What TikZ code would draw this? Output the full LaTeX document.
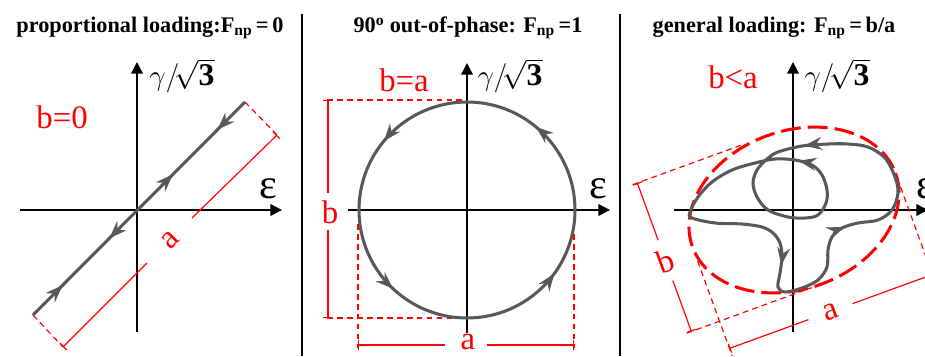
\documentclass[tikz,border=0pt]{standalone}
\usepackage{fontspec}
\setmainfont{Liberation Serif}
\newfontfamily\timesfont{Liberation Serif}
\usepackage{tikz}
\usetikzlibrary{arrows.meta,decorations.markings}
\definecolor{dimRed}{RGB}{255,0,0}
\definecolor{pathGray}{RGB}{88,88,88}

\tikzset{
  axis/.style={line width=1.3pt,-{Triangle[length=10pt,width=10pt]}},
  loadline/.style={color=pathGray,line width=2.6pt},
  pathtip/.tip={Stealth[length=15pt,width=11pt,inset=5pt]},
  dimline/.style={dimRed,line width=1pt},
  extline/.style={dimRed,line width=1pt,dash pattern=on 5pt off 3.5pt},
  envelope/.style={dimRed,line width=2.6pt,dash pattern=on 17pt off 6pt},
  redlabel/.style={text=dimRed,font=\timesfont\fontsize{28}{30}\selectfont,inner sep=1pt},
  axislabel/.style={font=\timesfont\fontsize{27}{29}\selectfont,inner sep=0pt},
  epslabel/.style={font=\timesfont\fontsize{36}{38}\selectfont,inner sep=0pt},
  paneltitle/.style={font=\timesfont\fontsize{19}{21}\selectfont\bfseries,inner sep=0pt},
  separator/.style={line width=1.2pt}
}

\begin{document}
\begin{tikzpicture}[x=0.03cm,y=-0.03cm]
\useasboundingbox (0,0) rectangle (925,356);

% panel frames
\draw[separator] (302,14) -- (302,356);
\draw[separator] (620,14) -- (620,356);
\node[paneltitle] (title1) at (150,28) {proportional loading:F\textsubscript{np}\,=\,0};
\node[paneltitle] (title2) at (468,28) {90\textsuperscript{o} out-of-phase: F\textsubscript{np}\,=1};
\node[paneltitle] (title3) at (774,28) {general loading: F\textsubscript{np}\,=\,b/a};

% ---- proportional ----
\coordinate (o1) at (137,210);
\draw[axis] (20,210) -- (282,210);
\draw[axis] (137,332) -- (137,62);
\node[axislabel] (gam1) at (182,76) {$\gamma/\!\sqrt{\textbf{3}}$};
\node[epslabel] (eps1) at (268,189) {ε};
\coordinate (p1s) at (33,315);
\coordinate (p1e) at (245,102);
\draw[extline] (p1e) -- (277,135);
\draw[extline] (p1s) -- (63,347);
\draw[dimline,-{Bar[width=8pt]}] (192,218) -- (277,135);
\draw[dimline,{Bar[width=8pt]}-] (63,347) -- (147,263);
\node[redlabel,rotate=45] (a1) at (170,240) {a};
\node[redlabel] (b1) at (62,117) {b=0};
\draw[loadline,postaction={decorate,decoration={markings,
    mark=at position 0.14 with {\arrow{pathtip}},
    mark=at position 0.36 with {\arrowreversed{pathtip}},
    mark=at position 0.66 with {\arrow{pathtip}},
    mark=at position 0.87 with {\arrowreversed{pathtip}}}}]
  (p1s) -- (p1e);

% ---- 90 deg out-of-phase ----
\coordinate (o2) at (467,210);
\draw[axis] (348,210) -- (610,210);
\draw[axis] (467,333) -- (467,63);
\node[axislabel] (gam2) at (510,76) {$\gamma/\!\sqrt{\textbf{3}}$};
\node[epslabel] (eps2) at (598,189) {ε};
\draw[extline] (327,100) -- (462,100);
\draw[extline] (327,318) -- (452,318);
\draw[extline] (358,224) -- (358,348);
\draw[extline] (574,224) -- (574,348);
\draw[dimline,{Bar[width=8pt]}-] (328,100) -- (328,193);
\draw[dimline,-{Bar[width=8pt]}] (328,230) -- (328,318);
\draw[dimline,{Bar[width=8pt]}-] (358,345) -- (445,345);
\draw[dimline,-{Bar[width=8pt]}] (487,345) -- (574,345);
\node[redlabel] (b2) at (330,212) {b};
\node[redlabel] (a2) at (468,342) {a};
\node[redlabel] (ba2) at (404,80) {b=a};
\draw[loadline,postaction={decorate,decoration={markings,
    mark=at position 0.10 with {\arrowreversed{pathtip}},
    mark=at position 0.37 with {\arrowreversed{pathtip}},
    mark=at position 0.61 with {\arrowreversed{pathtip}},
    mark=at position 0.86 with {\arrowreversed{pathtip}}}}]
  (o2) circle (108);

% ---- general ----
\coordinate (o3) at (793,210);
\draw[axis] (674,210) -- (928,210);
\draw[axis] (793,332) -- (793,62);
\node[axislabel] (gam3) at (837,76) {$\gamma/\!\sqrt{\textbf{3}}$};
\node[epslabel] (eps3) at (925,189) {ε};
\node[redlabel] (ba3) at (733,77) {b<a};
\begin{scope}[shift={(794,210)},rotate=20]
  \draw[envelope] (0,0) ellipse [x radius=108, y radius=79];
  \draw[extline] (-108,15) -- (-108,116);
  \draw[extline] (108,15) -- (108,116);
  \draw[extline] (-143,-79) -- (-28,-79);
  \draw[extline] (-143,79) -- (-10,79);
  \draw[dimline,{Bar[width=8pt]}-] (-108,108) -- (-24,108);
  \draw[dimline,-{Bar[width=8pt]}] (23,108) -- (108,108);
  \draw[dimline,{Bar[width=8pt]}-] (-138,-79) -- (-138,-18);
  \draw[dimline,-{Bar[width=8pt]}] (-138,25) -- (-138,79);
  \node[redlabel,rotate=20] (a3) at (0,108) {a};
  \node[redlabel,rotate=20] (b3) at (-138,4) {b};
\end{scope}
\draw[loadline,postaction={decorate,decoration={markings,
    mark=at position 0.118 with {\arrow{pathtip}},
    mark=at position 0.28 with {\arrow{pathtip}},
    mark=at position 0.52 with {\arrow{pathtip}},
    mark=at position 0.80 with {\arrow{pathtip}}}}]
  plot[smooth cycle,tension=0.55] coordinates {
    (692,218) (715,223) (742,224) (762,227) (773,233) (780,243) (782,257)
    (780,273) (778,287) (785,292) (802,288) (818,280) (827,267) (828,250)
    (832,237) (842,228) (858,223) (878,220) (892,210) (898,193) (895,177)
    (885,158) (868,147) (848,144) (828,144) (802,146) (778,152) (767,159)
    (757,170) (753,183) (757,197) (768,210) (788,217) (805,218) (818,215)
    (826,203) (827,190) (822,175) (812,165) (795,160) (775,159) (755,163)
    (732,170) (712,182) (698,197) (690,212)};
\end{tikzpicture}
\end{document}
